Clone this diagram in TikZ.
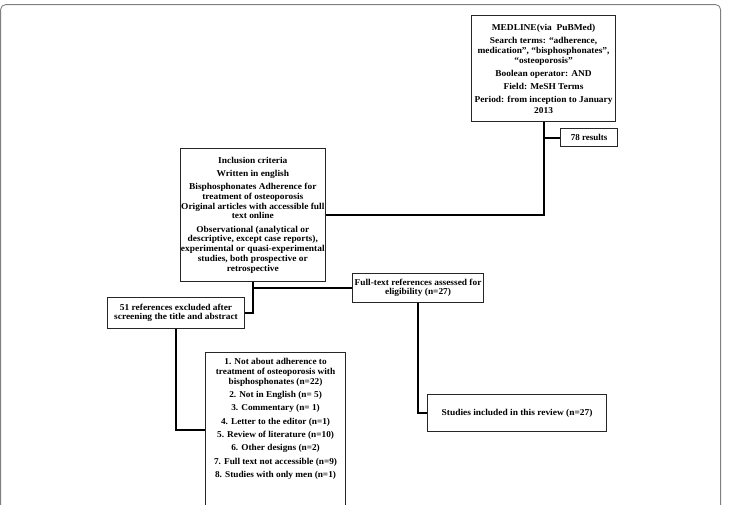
\documentclass[tikz,border=0pt]{standalone}
\usepackage{fontspec}
\setmainfont{Liberation Serif}
\usetikzlibrary{positioning}
\newcommand{\bxfont}[3]{\bfseries\addfontfeature{FakeStretch=#2}\fontsize{#1}{#3}\selectfont}
\begin{document}
\begin{tikzpicture}[x=1pt,y=-1pt,
  box/.style={draw=black!85, line width=1.1pt, inner sep=0pt, anchor=north west},
  txt/.style={align=center, inner sep=0pt},
  link/.style={draw=black, line width=1.9pt}]
\useasboundingbox (0,0) rectangle (731,504);
\clip (0,0) rectangle (731,504);
\draw[black!50, line width=0.9pt, rounded corners=5pt] (0.6,4.6) rectangle (720.6,530);

% boxes
\node[box, minimum width=144pt, minimum height=106pt] (med) at (471,15) {};
\node[txt, font={\bxfont{9}{1.045}{10.3}}] (medt) at (med.center) {MEDLINE(via\ \ PuBMed)\\[2.7pt]
Search terms: “adherence,\\ medication”, “bisphosphonates”,\\ “osteoporosis”\\[2.7pt]
Boolean operator: AND\\[2.7pt]
Field: MeSH Terms\\[2.7pt]
Period: from inception to January\\ 2013};

\node[box, minimum width=57pt, minimum height=18pt] (res) at (560,128) {};
\node[txt, font={\bxfont{9}{1.0}{10}}] (rest) at (res.center) {78 results};

\node[box, minimum width=145.5pt, minimum height=133pt] (inc) at (179.5,148) {};
\node[txt, font={\bxfont{9}{1.045}{9.8}}] (inct) at (inc.center) {Inclusion criteria\\[3.4pt]
Written in english\\[3.4pt]
Bisphosphonates Adherence for\\ treatment of osteoporosis\\ Original articles with accessible full\\ text online\\[3.4pt]
Observational (analytical or\\ descriptive, except case reports),\\ experimental or quasi-experimental\\ studies, both prospective or\\ retrospective};

\node[box, minimum width=131pt, minimum height=29pt] (full) at (352,273) {};
\node[txt, font={\bxfont{9}{1.04}{9.2}}] (fullt) at (full.center) {Full-text references assessed for\\ eligibility (n=27)};

\node[box, minimum width=137pt, minimum height=31pt] (exc) at (107,297) {};
\node[txt, font={\bxfont{9}{1.045}{9.4}}] (exct) at (exc.center) {51 references excluded after\\ screening the title and abstract};

\node[box, minimum width=140pt, minimum height=154pt] (excl) at (205,352) {};
\node[txt, anchor=north, font={\bxfont{9}{1.03}{9.9}}] (exclt) at ([yshift=-6pt]excl.north) {1. Not about adherence to\\ treatment of osteoporosis with\\ bisphosphonates (n=22)\\[3.4pt]
2. Not in English (n= 5)\\[3.4pt]
3. Commentary (n= 1)\\[3.4pt]
4. Letter to the editor (n=1)\\[3.4pt]
5. Review of literature (n=10)\\[3.4pt]
6. Other designs (n=2)\\[3.4pt]
7. Full text not accessible (n=9)\\[3.4pt]
8. Studies with only men (n=1)};

\node[box, minimum width=179pt, minimum height=37pt] (stud) at (427,394) {};
\node[txt, font={\bxfont{9}{1.045}{10}}] (studt) at (stud.center) {Studies included in this review (n=27)};

% connectors
\draw[link] (med.south) |- (inc.east);
\draw[link] (med.south |- res.west) -- (res.west);
\draw[link] (inc.south) |- (full.west);
\draw[link] (inc.south) |- (exc.east);
\draw[link] (exc.south) |- (excl.west);
\draw[link] (full.south) |- (stud.west);
\end{tikzpicture}
\end{document}
